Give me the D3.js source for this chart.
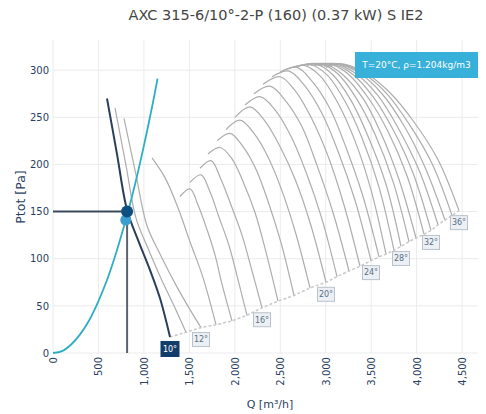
<!DOCTYPE html>
<html>
<head>
<meta charset="utf-8">
<script src="https://cdn.jsdelivr.net/npm/d3@7"></script>
<style>
  html, body { margin: 0; padding: 0; background: #fff; }
  svg { display: block; font-family: "DejaVu Sans", Verdana, sans-serif; }
</style>
</head>
<body>
<svg id="chart" width="486" height="414"></svg>
<script>
// ---- chart data -------------------------------------------------------
const chartTitle = "AXC 315-6/10°-2-P (160) (0.37 kW) S IE2";
const conditionsText = "T=20°C, ρ=1.204kg/m3";
const xTitle = "Q [m³/h]";
const yTitle = "Ptot [Pa]";

const qTicks = [0, 500, 1000, 1500, 2000, 2500, 3000, 3500, 4000, 4500];
const pTicks = [0, 50, 100, 150, 200, 250, 300];

// blade angles (deg) and their characteristic curves [Q m³/h, Ptot Pa]
const bladeAngles = [10, 11, 12, 13, 14, 15, 16, 17, 18, 19, 20, 21, 22, 23,
                     24, 25, 26, 27, 28, 29, 30, 31, 32, 33, 34, 35, 36];
const labelledAngles = [10, 12, 16, 20, 24, 28, 32, 36];
const selectedAngle = 10;

const deg10 = [[594,270],[704,211],[814,152],[935,120],[1067,88],[1177,58],[1287,17]];
const deg11 = [[682,260],[803,199],[913,143],[1045,111],[1188,79],[1331,50],[1463,22]];
const deg12 = [[781,249],[913,189],[1034,135],[1188,103],[1353,72],[1507,46],[1628,27]];
const deg13 = [[1089,207],[1232,186],[1375,154],[1507,118],[1650,80],[1793,30]];
const deg14 = [[1397,166],[1507,174],[1595,157],[1694,131],[1782,104],[1859,73],[1969,34]];
const deg15 = [[1507,181],[1628,189],[1727,171],[1826,144],[1936,114],[2024,82],[2134,40]];
const deg16 = [[1617,196],[1738,204],[1848,184],[1958,157],[2079,125],[2178,91],[2299,48]];
const deg17 = [[1705,211],[1837,218],[1969,206],[2090,182],[2222,149],[2343,107],[2475,55]];
const deg18 = [[1804,225],[1947,233],[2090,219],[2233,195],[2365,161],[2508,117],[2651,61]];
const deg19 = [[1903,237],[2057,247],[2211,233],[2365,208],[2519,172],[2673,126],[2827,69]];
const deg20 = [[2002,250],[2167,261],[2332,246],[2497,219],[2673,182],[2838,135],[3003,75]];
const deg21 = [[2112,263],[2277,272],[2442,258],[2618,230],[2783,192],[2959,142],[3124,81]];
const deg22 = [[2211,275],[2387,283],[2563,267],[2739,240],[2904,199],[3080,149],[3256,87]];
const deg23 = [[2310,285],[2497,293],[2673,277],[2849,248],[3025,209],[3201,157],[3377,92]];
const deg24 = [[2409,293],[2596,299],[2772,283],[2959,254],[3135,214],[3322,162],[3498,98]];
const deg25 = [[2497,298],[2684,303],[2860,287],[3047,259],[3223,218],[3410,166],[3586,102]];
const deg26 = [[2574,301],[2761,305],[2937,294],[3135,265],[3322,225],[3498,173],[3663,105]];
const deg27 = [[2640,303],[2827,306],[3014,295],[3212,267],[3399,228],[3586,176],[3751,109]];
const deg28 = [[2695,304],[2882,307],[3069,296],[3278,268],[3465,230],[3663,179],[3828,113]];
const deg29 = [[2750,305],[2937,307],[3135,296],[3344,269],[3542,232],[3740,182],[3916,118]];
const deg30 = [[2794,305],[2981,307],[3179,296],[3410,270],[3608,233],[3806,184],[3993,122]];
const deg31 = [[2838,305],[3025,307],[3234,297],[3465,271],[3685,235],[3894,188],[4081,126]];
const deg32 = [[2882,305],[3058,307],[3278,297],[3520,272],[3740,237],[3960,191],[4158,130]];
const deg33 = [[2915,305],[3091,307],[3322,297],[3575,273],[3795,239],[4026,194],[4235,136]];
const deg34 = [[2948,305],[3113,307],[3355,298],[3619,275],[3861,241],[4092,197],[4312,141]];
const deg35 = [[2981,304],[3135,307],[3388,298],[3663,276],[3916,243],[4169,201],[4389,146]];
const deg36 = [[3003,303],[3157,307],[3421,298],[3707,276],[3971,245],[4235,205],[4466,151]];

const fanCurves = [deg10, deg11, deg12, deg13, deg14, deg15, deg16, deg17, deg18,
                   deg19, deg20, deg21, deg22, deg23, deg24, deg25, deg26, deg27,
                   deg28, deg29, deg30, deg31, deg32, deg33, deg34, deg35, deg36];

// system resistance curve
const systemCurve = [[0,0],[100,2],[200,9],[300,20],[400,35],[500,55],[600,79],
                     [700,108],[800,141],[900,178],[1000,220],[1100,266],[1150,291]];

// requested duty point and the point met on the system curve
const dutyPoint = [815, 150];
const systemPoint = [800, 141];

// ---- layout -----------------------------------------------------------
const svg = d3.select("#chart");
const plot = { left: 53, right: 478, top: 40, bottom: 353 };

const x = d3.scaleLinear().domain([0, 4675]).range([plot.left, plot.right]);
const y = d3.scaleLinear().domain([0, 332]).range([plot.bottom, plot.top]);

const textColor = "#2a3f5f";
const gridColor = "#ebebeb";

// grid
svg.append("g").attr("class", "grid-x")
  .selectAll("line").data(qTicks).join("line")
  .attr("x1", d => x(d)).attr("x2", d => x(d))
  .attr("y1", plot.top).attr("y2", plot.bottom)
  .attr("stroke", gridColor).attr("stroke-width", 1);

svg.append("g").attr("class", "grid-y")
  .selectAll("line").data(pTicks).join("line")
  .attr("x1", plot.left).attr("x2", plot.right)
  .attr("y1", d => y(d)).attr("y2", d => y(d))
  .attr("stroke", gridColor).attr("stroke-width", 1);

// axes (labels only, lines hidden)
const fmt = d3.format(",");
const xAxis = svg.append("g")
  .attr("transform", `translate(0,${plot.bottom + 4})`)
  .call(d3.axisBottom(x).tickValues(qTicks).tickFormat(fmt).tickSize(0));
xAxis.select(".domain").remove();
xAxis.selectAll("text")
  .attr("font-family", "DejaVu Sans, Verdana, sans-serif")
  .attr("font-size", 10)
  .attr("fill", textColor)
  .attr("text-anchor", "end")
  .attr("dy", "0.35em")
  .attr("x", 0).attr("y", 0)
  .attr("transform", "rotate(-90)");

const yAxis = svg.append("g")
  .attr("transform", `translate(${plot.left - 3},0)`)
  .call(d3.axisLeft(y).tickValues(pTicks).tickFormat(d3.format("d")).tickSize(0));
yAxis.select(".domain").remove();
yAxis.selectAll("text")
  .attr("font-family", "DejaVu Sans, Verdana, sans-serif")
  .attr("font-size", 10)
  .attr("fill", textColor)
  .attr("x", -1);

// titles
svg.append("text")
  .attr("x", 276).attr("y", 20)
  .attr("text-anchor", "middle")
  .attr("font-size", 14.5)
  .attr("fill", "#444")
  .text(chartTitle);

svg.append("text")
  .attr("x", 270).attr("y", 408)
  .attr("text-anchor", "middle")
  .attr("font-size", 11)
  .attr("fill", textColor)
  .text(xTitle);

svg.append("text")
  .attr("transform", "translate(25,197) rotate(-90)")
  .attr("text-anchor", "middle")
  .attr("font-size", 12.5)
  .attr("fill", textColor)
  .text(yTitle);

// ---- curves -----------------------------------------------------------
const line = d3.line()
  .x(d => x(d[0])).y(d => y(d[1]))
  .curve(d3.curveCatmullRom.alpha(0.5));

const curveG = svg.append("g").attr("class", "fan-curves");
fanCurves.forEach((pts, i) => {
  if (bladeAngles[i] === selectedAngle) return;
  curveG.append("path")
    .attr("d", line(pts))
    .attr("fill", "none")
    .attr("stroke", "#adadad")
    .attr("stroke-width", 1.2);
});

// boundary joining the end of each curve
const endPoints = fanCurves.map(pts => pts[pts.length - 1]);
svg.append("path")
  .attr("d", d3.line().x(d => x(d[0])).y(d => y(d[1]))(endPoints))
  .attr("fill", "none")
  .attr("stroke", "#c9c9c9")
  .attr("stroke-width", 1.5)
  .attr("stroke-dasharray", "3,2");

// system curve
svg.append("path")
  .attr("d", line(systemCurve))
  .attr("fill", "none")
  .attr("stroke", "#2eaec4")
  .attr("stroke-width", 1.8);

// selected blade angle curve
const selIdx = bladeAngles.indexOf(selectedAngle);
svg.append("path")
  .attr("d", line(fanCurves[selIdx]))
  .attr("fill", "none")
  .attr("stroke", "#2b3f5c")
  .attr("stroke-width", 2);

// duty point guides
svg.append("line")
  .attr("x1", x(0)).attr("x2", x(dutyPoint[0]))
  .attr("y1", y(dutyPoint[1])).attr("y2", y(dutyPoint[1]))
  .attr("stroke", "#3b4b5e").attr("stroke-width", 2);
svg.append("line")
  .attr("x1", x(dutyPoint[0])).attr("x2", x(dutyPoint[0]))
  .attr("y1", y(dutyPoint[1])).attr("y2", y(0))
  .attr("stroke", "#5a6470").attr("stroke-width", 2);

svg.append("circle")
  .attr("cx", x(systemPoint[0])).attr("cy", y(systemPoint[1]))
  .attr("r", 5.5).attr("fill", "#3a9fd0");
svg.append("circle")
  .attr("cx", x(dutyPoint[0])).attr("cy", y(dutyPoint[1]))
  .attr("r", 6).attr("fill", "#0f4e80");

// angle labels at the end of curves
const labelG = svg.append("g").attr("class", "angle-labels");
labelledAngles.forEach(a => {
  const pts = fanCurves[bladeAngles.indexOf(a)];
  const end = pts[pts.length - 1];
  const cx = x(end[0]), cy = y(end[1]) + 12;
  const sel = a === selectedAngle;
  const w = sel ? 18 : 17, h = sel ? 15 : 14;
  labelG.append("rect")
    .attr("x", cx - w / 2).attr("y", cy - h / 2)
    .attr("width", w).attr("height", h)
    .attr("fill", sel ? "#123d6b" : "#eceff3")
    .attr("stroke", sel ? "#123d6b" : "#b9c2cc")
    .attr("stroke-width", 1);
  labelG.append("text")
    .attr("x", cx).attr("y", cy)
    .attr("dy", "0.35em")
    .attr("text-anchor", "middle")
    .attr("font-size", 8)
    .attr("fill", sel ? "#ffffff" : "#5b6f86")
    .text(a + "°");
});

// operating conditions badge
const badge = svg.append("g").attr("transform", "translate(355,52)");
badge.append("rect")
  .attr("width", 123).attr("height", 26)
  .attr("fill", "#37b0da");
badge.append("text")
  .attr("x", 61.5).attr("y", 13).attr("dy", "0.35em")
  .attr("text-anchor", "middle")
  .attr("font-size", 9)
  .attr("fill", "#ffffff")
  .text(conditionsText);
</script>
</body>
</html>
